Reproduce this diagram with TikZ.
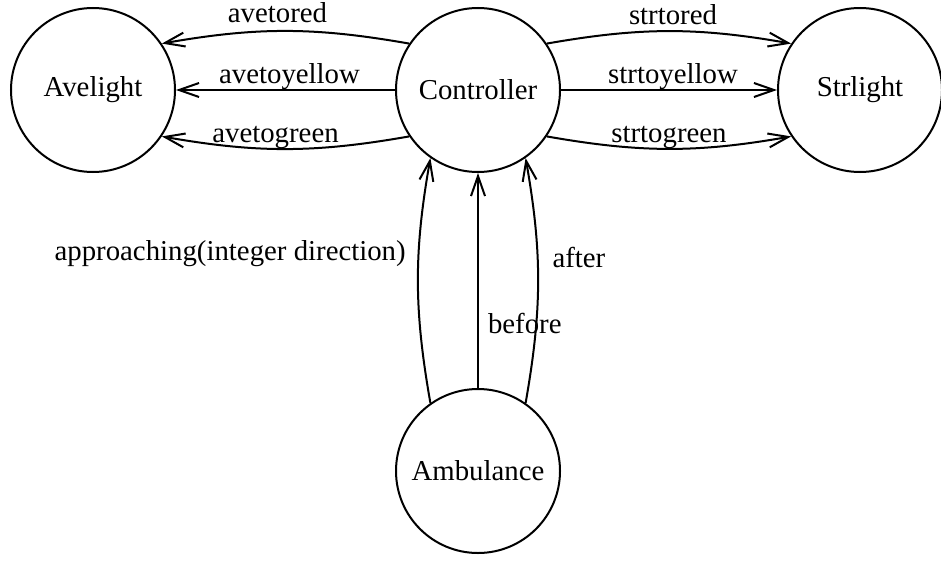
\documentclass[tikz,border=0pt]{standalone}
\usepackage{fontspec}
\setmainfont{Liberation Serif}
\usetikzlibrary{arrows.meta,positioning}

\begin{document}
\begin{tikzpicture}[x=0.5pt, y=0.5pt, every node/.style={font=\fontsize{14.4pt}{17pt}\selectfont},
  state/.style={draw, circle, line width=1pt, minimum size=82pt, inner sep=0pt},
  arr/.style={-{Straight Barb[length=10pt, width=7pt, line width=1pt]}, line width=1pt},
  lab/.style={anchor=base, yshift=3.5pt, inner sep=0pt}]
\useasboundingbox (0,0) rectangle (941,-562);
\node[state] (ave) at (93,-90) {Avelight};
\node[state, right=109.5pt of ave] (ctrl) {Controller};
\node[state, right=108pt of ctrl] (strl) {Strlight};
\node[state, below=107.5pt of ctrl] (amb) {Ambulance};
% controller to the avenue light
\draw[arr] (ctrl.146) to[bend right=10] node[lab, yshift=1pt, xshift=-4pt]{avetored} (ave.34);
\draw[arr] (ctrl.west) to node[lab, xshift=2pt]{avetoyellow} (ave.east);
\draw[arr] (ctrl.214) to[bend left=10] node[lab, yshift=-0.5pt, xshift=-5pt]{avetogreen} (ave.326);
% controller to the street light
\draw[arr] (ctrl.34) to[bend left=10] node[lab, xshift=2pt]{strtored} (strl.146);
\draw[arr] (ctrl.east) to node[lab, xshift=2pt]{strtoyellow} (strl.west);
\draw[arr] (ctrl.326) to[bend right=10] node[lab, yshift=-0.5pt]{strtogreen} (strl.214);
% ambulance to controller
\draw[arr] (amb.125) to[bend left=10] node[pos=.62, left=6pt, inner sep=0pt]{approaching(integer direction)} (ctrl.235);
\draw[arr] (amb.north) to node[pos=.3, right=4.5pt, inner sep=0pt]{before} (ctrl.south);
\draw[arr] (amb.55) to[bend right=10] node[pos=.6, right=7pt, inner sep=0pt]{after} (ctrl.305);
\end{tikzpicture}
\end{document}
